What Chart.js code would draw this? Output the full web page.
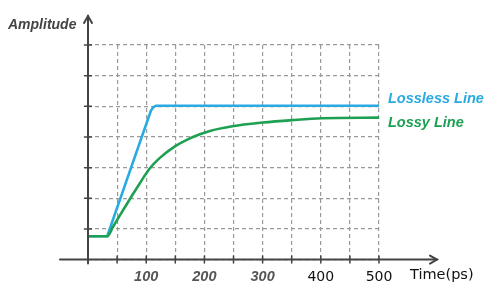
<!DOCTYPE html>
<html>
<head>
<meta charset="utf-8">
<script src="https://cdn.jsdelivr.net/npm/chart.js@4"></script>
<style>
  html, body { margin: 0; padding: 0; background: #fff; }
  #wrap { width: 500px; height: 300px; }
</style>
</head>
<body>
<div id="wrap"><canvas id="c"></canvas></div>
<script>
// values (time in ps, amplitude in grid units)
const losslessTime = [0, 33, 108, 112, 117, 500];
const losslessAmp = [0.76, 0.76, 4.85, 4.97, 5.02, 5.02];

const lossyTime = [0, 33, 43, 54, 66, 77, 88, 106, 123, 150, 168, 191, 208, 248, 300, 351, 402, 500];
const lossyAmp = [0.76, 0.76, 1.07, 1.42, 1.79, 2.13, 2.46, 2.97, 3.31, 3.7, 3.89, 4.08, 4.19, 4.35, 4.47, 4.55, 4.61, 4.63];

const timeLabels = [100, 200, 300, 400, 500];
const seriesNames = ['Lossless Line', 'Lossy Line'];

const blue = 'rgb(41, 171, 226)';
const green = 'rgb(30, 160, 82)';
const axisColor = '#444';

function toPoints(xs, ys) {
    return xs.map((x, i) => ({x: x, y: ys[i]}));
}

const decor = {
    id: 'decor',
    afterDraw(chart) {
        const ctx = chart.ctx;
        const xs = chart.scales.x;
        const ys = chart.scales.y;
        const x0 = xs.getPixelForValue(0);
        const y0 = ys.getPixelForValue(0);

        ctx.save();
        ctx.strokeStyle = axisColor;
        ctx.lineWidth = 2;
        ctx.lineCap = 'round';

        // axes
        ctx.beginPath();
        ctx.moveTo(60, y0);
        ctx.lineTo(437, y0);
        ctx.moveTo(x0, y0 + 4);
        ctx.lineTo(x0, 16);
        ctx.stroke();

        // arrow heads
        ctx.beginPath();
        ctx.moveTo(430, y0 - 4);
        ctx.lineTo(437, y0);
        ctx.lineTo(430, y0 + 4);
        ctx.moveTo(x0 - 4, 23);
        ctx.lineTo(x0, 16);
        ctx.lineTo(x0 + 4, 23);
        ctx.stroke();

        // small ticks
        ctx.lineWidth = 1.5;
        ctx.beginPath();
        for (let v = 1; v <= 7; v++) {
            const py = ys.getPixelForValue(v);
            ctx.moveTo(x0 - 3.5, py);
            ctx.lineTo(x0 + 3.5, py);
        }
        for (let t = 50; t <= 500; t += 50) {
            const px = xs.getPixelForValue(t);
            ctx.moveTo(px, y0 - 3.5);
            ctx.lineTo(px, y0 + 3.5);
        }
        ctx.stroke();

        // axis titles
        ctx.fillStyle = axisColor;
        ctx.textBaseline = 'alphabetic';
        ctx.font = 'italic bold 14px "Liberation Sans", Arial, sans-serif';
        ctx.fillText('Amplitude', 8, 29);
        ctx.fillStyle = '#111';
        ctx.font = '14.5px "DejaVu Sans", sans-serif';
        ctx.fillText('Time(ps)', 410, 279);

        // series labels at the line ends
        ctx.font = 'italic bold 14.5px "Liberation Sans", Arial, sans-serif';
        const xr = xs.getPixelForValue(500) + 9;
        ctx.fillStyle = blue;
        ctx.fillText(seriesNames[0], xr, ys.getPixelForValue(losslessAmp[losslessAmp.length - 1]) - 3);
        ctx.fillStyle = green;
        ctx.fillText(seriesNames[1], xr, ys.getPixelForValue(lossyAmp[lossyAmp.length - 1]) + 9);
        ctx.restore();
    }
};

new Chart(document.getElementById('c'), {
    type: 'line',
    data: {
        datasets: [{
            label: seriesNames[1],
            data: toPoints(lossyTime, lossyAmp),
            borderColor: green,
            borderWidth: 2.6,
            pointRadius: 0,
            cubicInterpolationMode: 'monotone'
        }, {
            label: seriesNames[0],
            data: toPoints(losslessTime, losslessAmp),
            borderColor: blue,
            borderWidth: 2.6,
            pointRadius: 0,
            tension: 0
        }]
    },
    plugins: [decor],
    options: {
        responsive: true,
        maintainAspectRatio: false,
        animation: false,
        layout: {
            padding: {left: 88, right: 121, top: 45, bottom: 5}
        },
        plugins: {
            legend: {display: false},
            tooltip: {enabled: false}
        },
        scales: {
            x: {
                type: 'linear',
                min: 0,
                max: 500,
                border: {display: false, dash: [4, 3]},
                grid: {
                    color: '#9a9a9a',
                    lineWidth: 1.2,
                    drawTicks: false
                },
                ticks: {
                    stepSize: 50,
                    autoSkip: false,
                    maxRotation: 0,
                    padding: 9,
                    callback: v => timeLabels.includes(v) ? String(v) : '',
                    color: c => (c.tick && c.tick.value >= 400) ? '#111' : '#555',
                    font: c => (c.tick && c.tick.value >= 400)
                        ? {family: '"DejaVu Sans", sans-serif', size: 14, style: 'normal', weight: 'normal'}
                        : {family: '"Liberation Sans", Arial, sans-serif', size: 14.5, style: 'italic', weight: 'bold'}
                }
            },
            y: {
                min: 0,
                max: 7,
                border: {display: false, dash: [4, 3]},
                grid: {
                    color: '#9a9a9a',
                    lineWidth: 1.2,
                    drawTicks: false
                },
                ticks: {
                    stepSize: 1,
                    display: false
                }
            }
        }
    }
});
</script>
</body>
</html>
